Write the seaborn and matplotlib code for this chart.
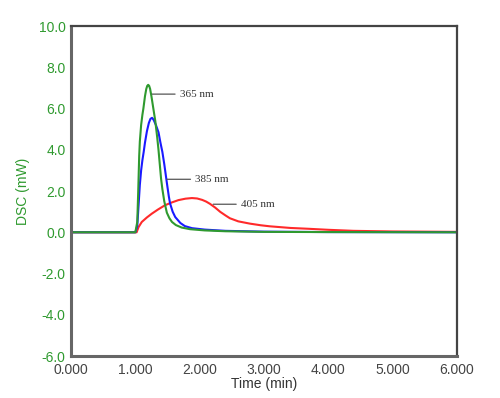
import numpy as np
import pandas as pd
import matplotlib
matplotlib.use("Agg")
import matplotlib.pyplot as plt
import seaborn as sns

# Data (time in min, heat flow in mW)
t_365 = [0.0, 1.0, 1.03, 1.045, 1.06, 1.07, 1.09, 1.11, 1.125, 1.15, 1.17, 1.185, 1.20,
         1.215, 1.23, 1.25, 1.28, 1.31, 1.34, 1.36, 1.38, 1.40, 1.42, 1.45, 1.49, 1.53,
         1.57, 1.63, 1.72, 1.85, 2.08, 2.4, 3.0, 4.0, 6.0]
dsc_365 = [0.0, 0.0, 0.5, 2.0, 3.7, 4.4, 5.2, 5.7, 6.0, 6.6, 6.95, 7.1, 7.15,
           7.1, 6.95, 6.6, 6.0, 5.4, 4.6, 4.0, 3.3, 2.6, 2.1, 1.5, 0.95, 0.68,
           0.5, 0.35, 0.23, 0.15, 0.09, 0.05, 0.02, 0.01, 0.0]

t_385 = [0.0, 1.0, 1.03, 1.05, 1.07, 1.09, 1.11, 1.13, 1.15, 1.18, 1.21, 1.235,
         1.26, 1.285, 1.32, 1.36, 1.39, 1.42, 1.45, 1.49, 1.52, 1.54, 1.58, 1.62,
         1.70, 1.77, 1.88, 2.08, 2.4, 3.0, 4.0, 6.0]
dsc_385 = [0.0, 0.0, 0.3, 1.3, 2.3, 3.0, 3.5, 3.9, 4.35, 4.9, 5.3, 5.5,
           5.55, 5.45, 5.2, 4.85, 4.35, 3.9, 3.3, 2.4, 1.75, 1.4, 1.0, 0.74,
           0.45, 0.3, 0.2, 0.13, 0.07, 0.03, 0.01, 0.0]

t_405 = [0.0, 1.0, 1.02, 1.05, 1.10, 1.18, 1.255, 1.35, 1.46, 1.57, 1.67, 1.78,
         1.88, 1.96, 2.04, 2.10, 2.16, 2.24, 2.32, 2.40, 2.47, 2.60, 2.78, 2.95,
         3.09, 3.25, 3.41, 3.69, 4.0, 4.39, 5.0, 5.5, 6.0]
dsc_405 = [0.0, 0.0, 0.0, 0.25, 0.5, 0.72, 0.9, 1.1, 1.31, 1.45, 1.56, 1.63,
           1.66, 1.64, 1.57, 1.49, 1.38, 1.2, 0.99, 0.82, 0.68, 0.53, 0.42, 0.34,
           0.29, 0.25, 0.21, 0.17, 0.12, 0.07, 0.04, 0.03, 0.02]

x_ticks = [0, 1, 2, 3, 4, 5, 6]
y_ticks = [-6, -4, -2, 0, 2, 4, 6, 8, 10]

GREEN = "#2f9a2f"
BLUE = "#1a1aff"
RED = "#ff2a2a"

sns.set_style("white")
plt.rcParams['font.family'] = ['Liberation Sans', 'DejaVu Sans']

fig = plt.figure(figsize=(5, 3.98), dpi=100)
ax = fig.add_axes([0.142, 0.1055, 0.772, 0.829])

# draw order: red, blue, green on top
sns.lineplot(x=t_405, y=dsc_405, color=RED, lw=1.5, sort=False, ax=ax)
sns.lineplot(x=t_385, y=dsc_385, color=BLUE, lw=1.5, sort=False, ax=ax)
sns.lineplot(x=t_365, y=dsc_365, color=GREEN, lw=1.5, sort=False, ax=ax)

ax.set_xlim(0, 6)
ax.set_ylim(-6, 10)
ax.set_xticks(x_ticks)
ax.set_yticks(y_ticks)
ax.set_xticklabels([f"{v:.3f}" for v in x_ticks], fontsize=10, color="#444444")
ax.set_yticklabels([f"{v:.1f}" for v in y_ticks], fontsize=10, color=GREEN)
ax.tick_params(axis='y', direction='in', length=3, width=0.8, color="#b5dcb5", pad=4)
ax.tick_params(axis='x', direction='in', length=3, width=0.8, color="#bbbbbb", pad=5)

ax.set_xlabel("Time (min)", fontsize=10, color="#333333", labelpad=0)
ax.set_ylabel("DSC (mW)", fontsize=10, color=GREEN, labelpad=6)

for side in ['left', 'bottom']:
    ax.spines[side].set_color("#666666")
    ax.spines[side].set_linewidth(2.2)
for side in ['top', 'right']:
    ax.spines[side].set_color("#444444")
    ax.spines[side].set_linewidth(1.6)

# wavelength labels with leader lines
label_kw = dict(fontsize=8, family='Liberation Serif', color="#333333", va='center')
line_kw = dict(arrowstyle='-', color="#555555", lw=0.9, shrinkA=1, shrinkB=0)
ax.annotate("365 nm", xy=(1.26, 6.7), xytext=(1.69, 6.7), arrowprops=line_kw, **label_kw)
ax.annotate("385 nm", xy=(1.49, 2.57), xytext=(1.93, 2.57), arrowprops=line_kw, **label_kw)
ax.annotate("405 nm", xy=(2.21, 1.36), xytext=(2.64, 1.36), arrowprops=line_kw, **label_kw)

fig.savefig("out.png", dpi=100)
